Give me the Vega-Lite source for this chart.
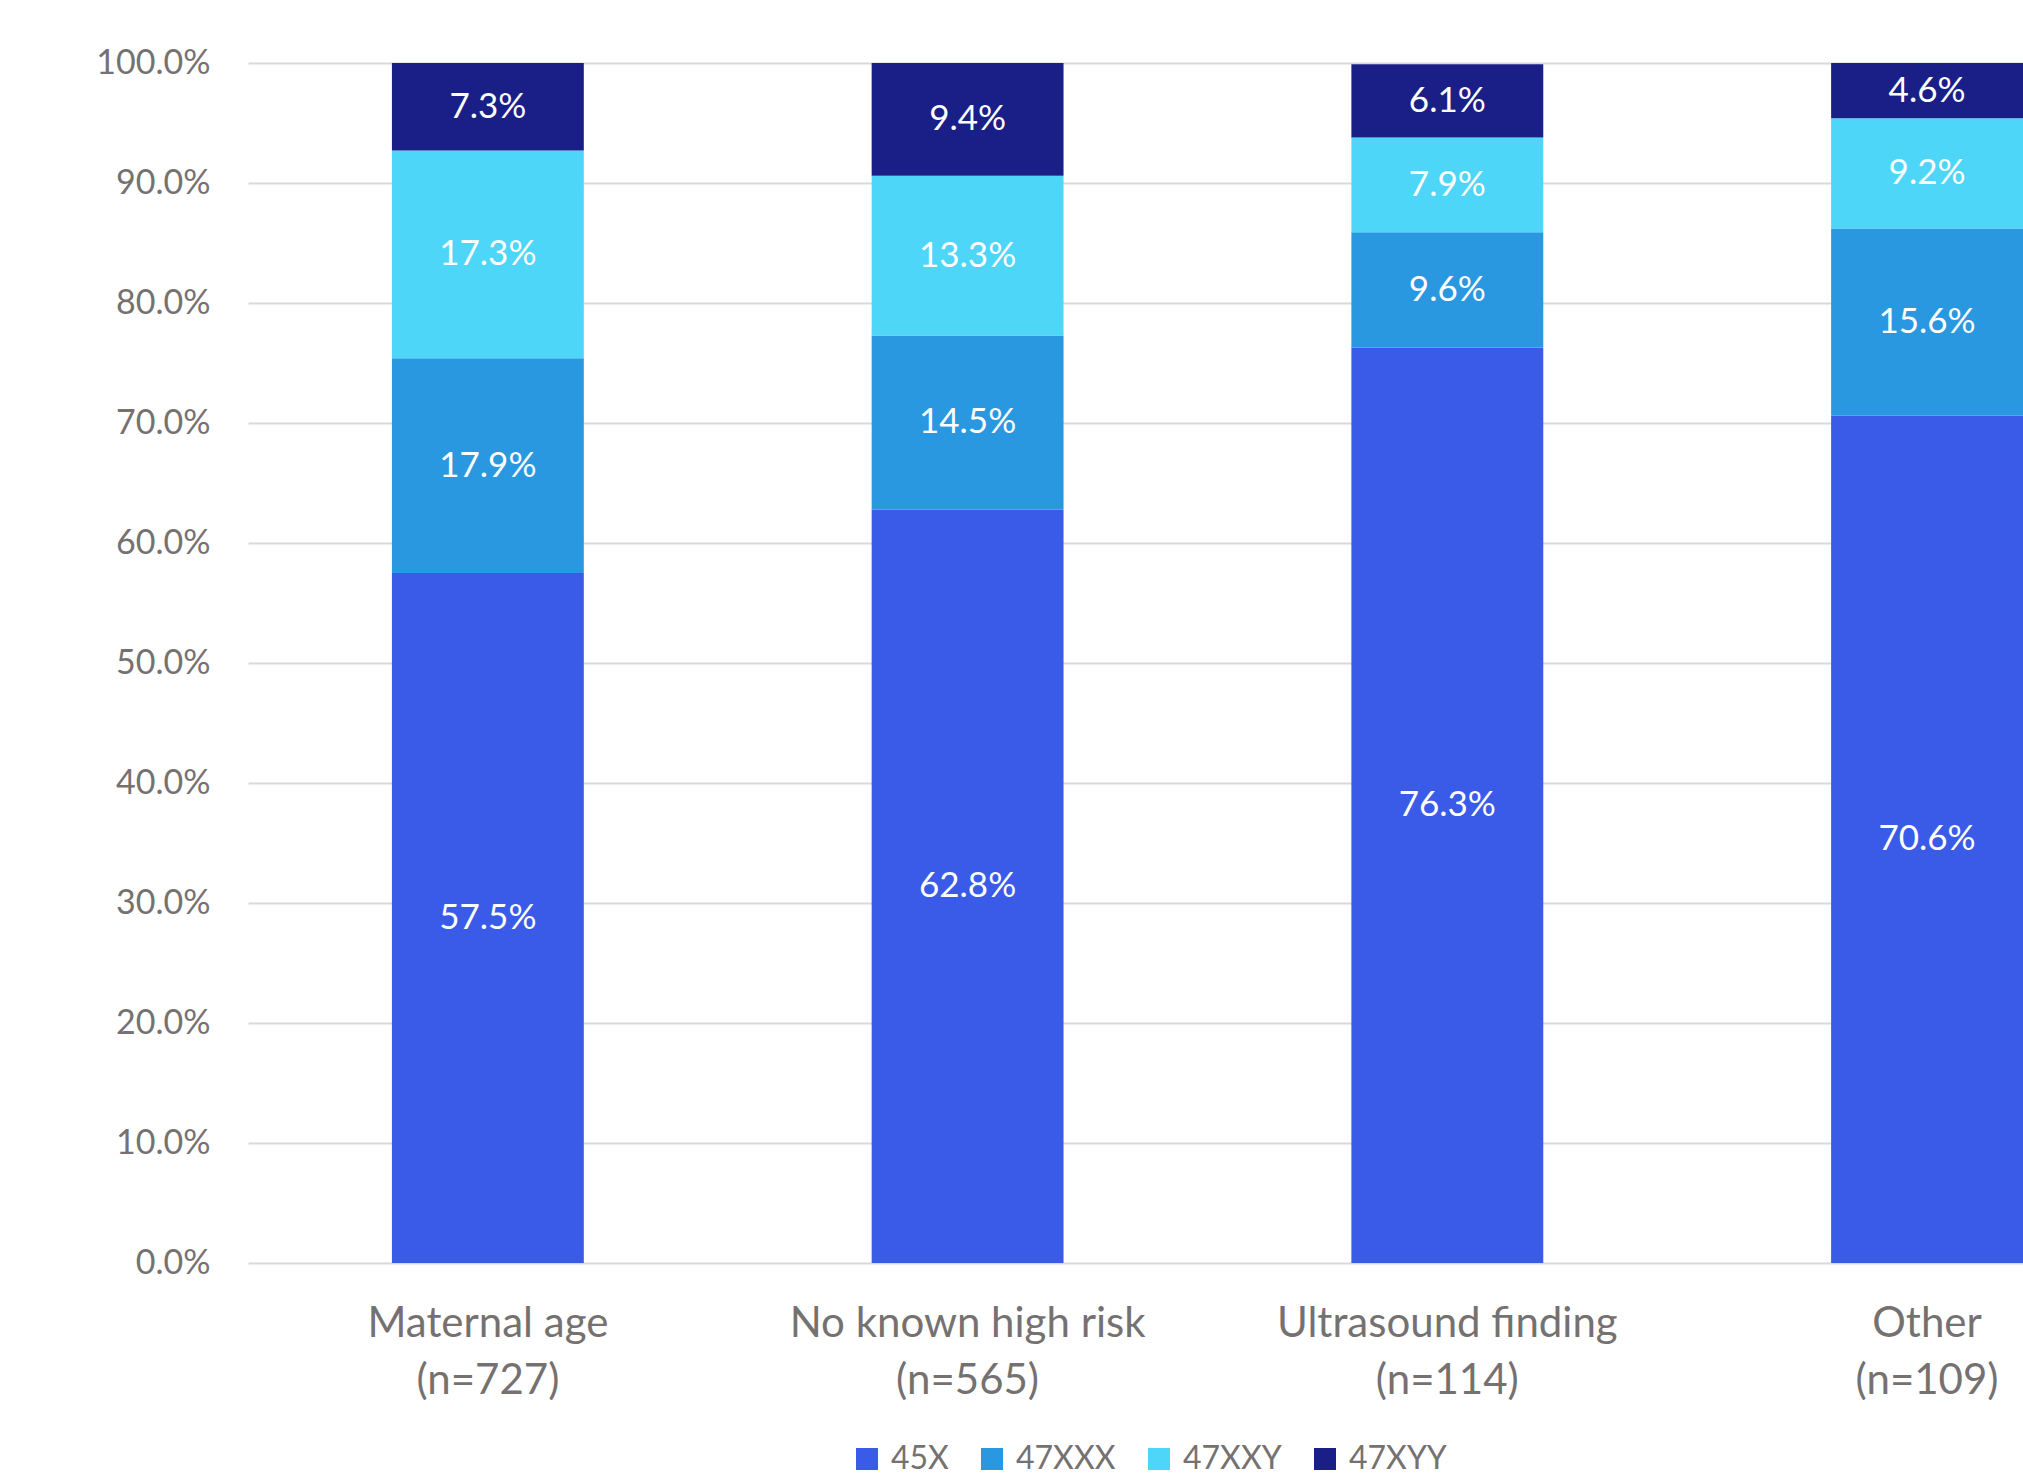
{
  "$schema": "https://vega.github.io/schema/vega-lite/v6.json",
  "width": 1775,
  "height": 1200,
  "autosize": {"type": "none"},
  "padding": {"left": 248, "top": 63, "right": 0, "bottom": 213},
  "background": "white",
  "config": {"view": {"stroke": null}, "font": "Lato"},
  "data": {
    "values": [
      {"cat": "Maternal age|(n=727)", "geno": "45X", "pct": 0.575},
      {"cat": "Maternal age|(n=727)", "geno": "47XXX", "pct": 0.179},
      {"cat": "Maternal age|(n=727)", "geno": "47XXY", "pct": 0.173},
      {"cat": "Maternal age|(n=727)", "geno": "47XYY", "pct": 0.073},
      {"cat": "No known high risk|(n=565)", "geno": "45X", "pct": 0.628},
      {"cat": "No known high risk|(n=565)", "geno": "47XXX", "pct": 0.145},
      {"cat": "No known high risk|(n=565)", "geno": "47XXY", "pct": 0.133},
      {"cat": "No known high risk|(n=565)", "geno": "47XYY", "pct": 0.094},
      {"cat": "Ultrasound finding|(n=114)", "geno": "45X", "pct": 0.763},
      {"cat": "Ultrasound finding|(n=114)", "geno": "47XXX", "pct": 0.096},
      {"cat": "Ultrasound finding|(n=114)", "geno": "47XXY", "pct": 0.079},
      {"cat": "Ultrasound finding|(n=114)", "geno": "47XYY", "pct": 0.061},
      {"cat": "Other|(n=109)", "geno": "45X", "pct": 0.706},
      {"cat": "Other|(n=109)", "geno": "47XXX", "pct": 0.156},
      {"cat": "Other|(n=109)", "geno": "47XXY", "pct": 0.092},
      {"cat": "Other|(n=109)", "geno": "47XYY", "pct": 0.046}
    ]
  },
  "layer": [
    {
      "mark": {"type": "bar"},
      "encoding": {
        "x": {
          "field": "cat", "type": "nominal", "sort": null,
          "scale": {"paddingInner": 0.6, "paddingOuter": 0.15, "align": 1},
          "axis": {
            "title": null, "domain": false, "ticks": false, "labelAngle": 0,
            "labelFontSize": 42, "labelColor": "#767171", "labelPadding": 40,
            "labelLineHeight": 57, "labelBaseline": "top", "labelLimit": 0,
            "labelExpr": "split(datum.label, '|')"
          }
        },
        "y": {
          "field": "pct", "type": "quantitative", "stack": "zero",
          "scale": {"domain": [0, 1], "nice": false},
          "axis": {
            "title": null, "values": [0, 0.1, 0.2, 0.3, 0.4, 0.5, 0.6, 0.7, 0.8, 0.9, 1.0],
            "format": ".1%", "grid": true, "gridColor": "#D9D9D9", "gridWidth": 2,
            "domain": false, "ticks": false, "labelFontSize": 34,
            "labelColor": "#767171", "labelPadding": 38
          }
        },
        "color": {
          "field": "geno", "type": "nominal",
          "scale": {"domain": ["45X", "47XXX", "47XXY", "47XYY"], "range": ["#3A5BE8", "#2998E0", "#4DD6F8", "#1A1F88"]},
          "legend": {
            "title": null, "orient": "none", "legendX": 603, "legendY": 1380,
            "direction": "horizontal", "symbolType": "square", "symbolSize": 484,
            "symbolStrokeWidth": 0, "labelFontSize": 32, "labelColor": "#767171",
            "columnPadding": 27, "labelOffset": 8
          }
        },
        "order": {"field": "geno", "sort": "ascending"}
      }
    },
    {
      "mark": {"type": "text", "color": "white", "fontSize": 35, "align": "center", "baseline": "middle"},
      "encoding": {
        "x": {"field": "cat", "type": "nominal", "sort": null},
        "y": {"field": "pct", "type": "quantitative", "stack": "zero", "bandPosition": 0.5},
        "detail": {"field": "geno"},
        "order": {"field": "geno", "sort": "ascending"},
        "text": {"field": "pct", "type": "quantitative", "format": ".1%"}
      }
    }
  ]
}
